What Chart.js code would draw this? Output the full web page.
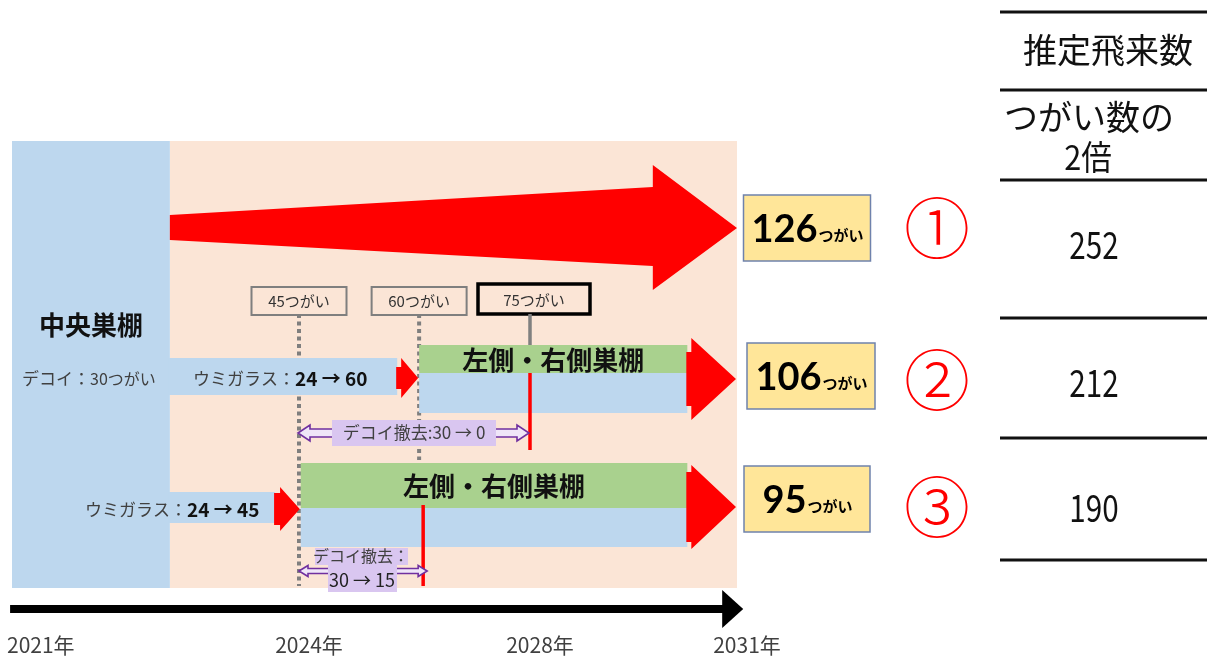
<!DOCTYPE html>
<html><head><meta charset="utf-8">
<script src="https://cdn.jsdelivr.net/npm/chart.js@4.4.1/dist/chart.umd.min.js"></script>
<style>html,body{margin:0;padding:0;background:#fff;overflow:hidden}#wrap{width:1207px;height:657px}</style>
</head><body><div id="wrap"><canvas id="c" width="1207" height="657"></canvas></div>
<script>
// ---------------- data ----------------
const yearTicks = [2021, 2024, 2028, 2031];
const yearLabels = ['2021年', '2024年', '2028年', '2031年'];
const scenarioMarks = ['①', '②', '③'];
const pairs2031 = [126, 106, 95];          // 2031年のつがい数
const birds2031 = [252, 212, 190];         // 推定飛来数（つがい数の2倍）
const tableHeader = ['推定飛来数', 'つがい数の', '2倍'];
const milestonePairs = [45, 60, 75];
const milestoneYears = [2024, 2026.08, 2028];
const centralNestEnd = 2022.65;            // 中央巣棚のみの期間の終わり
const decoyCentral = 30;                   // デコイ：30つがい
const murreFrom = [24, 24];                // シナリオ②③ ウミガラス
const murreTo = [60, 45];
const murreBarEnd = [2025.70, 2023.75];
const sideNestStart = [2026.08, 2024.03];  // 左側・右側巣棚 開始
const sideNestEnd = 2030.28;
const decoyFrom = [30, 30];
const decoyTo = [0, 15];
const decoyRemovalStart = [2024, 2024];
const decoyRemovalEnd = [2028, 2026.15];
const horizonYear = 2031;
const axisStartYear = 2020.98;

// ---------------- layout (slide units) ----------------
const SLIDE_W = 1207;
const L = {
  band: { top: 141, bottom: 588 },
  row1: { tailTop: 215, tailBottom: 240, shaftTop: 187, shaftBottom: 266, headTop: 165, headBottom: 290, tipY: 228, headBaseYear: 2029.78 },
  row2: { barTop: 358, barBottom: 395, greenTop: 345, split: 373, blueBottom: 413, textX: 193, textY: 379, decoyX: 22,
          small: { shaft: 5, sh: 11, hh: 20, y: 378 }, end: { shaft: 5, sh: 27, hh: 41, y: 379 },
          purpleY: 433, pSh: 4, pHh: 8, pHl: 12, redTop: 373, redBottom: 450, dotBottom: 460 },
  row3: { barTop: 492, barBottom: 523, greenTop: 463, split: 508, blueBottom: 547, textX: 85, textY: 510,
          small: { shaft: 6, sh: 16, hh: 22, y: 509 }, end: { shaft: 5, sh: 35, hh: 42, y: 507 },
          purpleY: 571, pSh: 2.5, pHh: 5.5, pHl: 9, redTop: 505, redBottom: 586, dotBottom: 586 },
  milestone: { top: 287, bottom: 315, w: [95, 95, 112], dx: [0, 0, 4], border: [2, 2, 3.5], colors: ['#7f7f7f', '#7f7f7f', '#000'] },
  connectorTop: 314,
  axis: { y: 609, thick: 8, headLen: 20, headHalf: 19, labelY: 645 },
  results: { cx: [807, 811, 807], cy: [228, 376, 499], w: [127, 128, 126], h: 66, markX: 937, markY: [228, 380, 507] },
  table: { x0: 1000, x1: 1207, lines: [12, 90, 180, 318, 438, 560], cx: 1094, hdrY: [50, 117, 157], numY: [245, 383, 508] }
};

const C = { pink: '#FBE5D6', blue: '#BDD7EE', green: '#A9D18E', red: '#FF0000', purple: '#7030A0', lav: '#D9C6F0', yellow: '#FFE699', text: '#404040' };
const JP = '"Noto Sans CJK JP", "Noto Sans", sans-serif';

// ---------------- piecewise timeline scale ----------------
class PiecewiseScale extends Chart.LinearScale {
  static id = 'piecewise';
  static defaults = Chart.LinearScale.defaults;
  _seg(v) {
    const bp = this.options.breakpoints;
    let i = 0;
    while (i < bp.length - 2 && v > bp[i + 1][0]) i++;
    return i;
  }
  getPixelForValue(v) {
    const bp = this.options.breakpoints, i = this._seg(v);
    const [v0, f0] = bp[i], [v1, f1] = bp[i + 1];
    return this.getPixelForDecimal(f0 + (v - v0) * (f1 - f0) / (v1 - v0));
  }
  getValueForPixel(p) {
    const bp = this.options.breakpoints, f = this.getDecimalForPixel(p);
    let i = 0;
    while (i < bp.length - 2 && f > bp[i + 1][1]) i++;
    const [v0, f0] = bp[i], [v1, f1] = bp[i + 1];
    return v0 + (f - f0) * (v1 - v0) / (f1 - f0);
  }
}
Chart.register(PiecewiseScale);

// ---------------- helpers ----------------
function H(chart) {
  const xs = chart.scales.x, ys = chart.scales.y, a = chart.chartArea;
  return { X: v => xs.getPixelForValue(v), Y: v => ys.getPixelForValue(v), U: u => a.left + u * a.width / SLIDE_W };
}
function rect(ctx, x0, x1, y0, y1, fill) { ctx.fillStyle = fill; ctx.fillRect(x0, y0, x1 - x0, y1 - y0); }
function poly(ctx, pts, fill, stroke, lw) {
  ctx.beginPath(); pts.forEach((p, i) => i ? ctx.lineTo(p[0], p[1]) : ctx.moveTo(p[0], p[1])); ctx.closePath();
  if (fill) { ctx.fillStyle = fill; ctx.fill(); }
  if (stroke) { ctx.strokeStyle = stroke; ctx.lineWidth = lw || 1; ctx.stroke(); }
}
function runs(ctx, segs, x, y, align) {
  ctx.textBaseline = 'middle'; ctx.textAlign = 'left';
  let w = 0; segs.forEach(s => { ctx.font = s[1]; w += ctx.measureText(s[0]).width; });
  let cx = align === 'center' ? x - w / 2 : align === 'right' ? x - w : x;
  segs.forEach(s => { ctx.font = s[1]; ctx.fillStyle = s[2]; ctx.fillText(s[0], cx, y); cx += ctx.measureText(s[0]).width; });
}
function blockArrow(ctx, x0, shaftLen, xTip, y, sh, hh) {
  const xb = x0 + shaftLen;
  poly(ctx, [[x0, y - sh], [xb, y - sh], [xb, y - hh], [xTip, y], [xb, y + hh], [xb, y + sh], [x0, y + sh]], C.red);
}
function doubleArrow(ctx, xl, xr, y, sh, hh, hl) {
  poly(ctx, [[xl, y], [xl + hl, y - hh], [xl + hl, y - sh], [xr - hl, y - sh], [xr - hl, y - hh], [xr, y],
             [xr - hl, y + hh], [xr - hl, y + sh], [xl + hl, y + sh], [xl + hl, y + hh]], '#EFE6F8', C.purple, 1.6);
}

function drawBars(chart) {
  const ctx = chart.ctx, { X, Y } = H(chart);
  [L.row2, L.row3].forEach((r, k) => {
    rect(ctx, X(centralNestEnd) - 1, X(murreBarEnd[k]), Y(r.barTop), Y(r.barBottom), C.blue);
    blockArrow(ctx, X(murreBarEnd[k]) - 1, r.small.shaft, X(sideNestStart[k]) - 1, Y(r.small.y), r.small.sh, r.small.hh);
    rect(ctx, X(sideNestStart[k]), X(sideNestEnd), Y(r.greenTop), Y(r.split), C.green);
    rect(ctx, X(sideNestStart[k]), X(sideNestEnd), Y(r.split), Y(r.blueBottom), C.blue);
    blockArrow(ctx, X(sideNestEnd) - 1, r.end.shaft, X(horizonYear) - 1, Y(r.end.y), r.end.sh, r.end.hh);
    const gc = (X(sideNestStart[k]) + X(sideNestEnd)) / 2;
    runs(ctx, [['左側・右側巣棚', 'bold 26px ' + JP, '#111']], gc, (Y(r.greenTop) + Y(r.split)) / 2 + 1, 'center');
    runs(ctx, [['ウミガラス：', '17px ' + JP, C.text], [murreFrom[k] + ' → ' + murreTo[k], 'bold 19px ' + JP, '#111']],
         H(chart).U(r.textX), Y(r.textY), 'left');
  });
  runs(ctx, [['デコイ：', '17px ' + JP, C.text], [decoyCentral + 'つがい', '16px ' + JP, C.text]], H(chart).U(L.row2.decoyX), Y(L.row2.textY), 'left');
}

const diagram = {
  id: 'diagram',
  beforeDraw(chart) { chart.$barsDone = false; },
  beforeDatasetsDraw(chart) {
    const ctx = chart.ctx, { X, Y } = H(chart);
    rect(ctx, X(centralNestEnd), X(horizonYear), Y(L.band.top), Y(L.band.bottom), C.pink);
    rect(ctx, X(2021), X(centralNestEnd), Y(L.band.top), Y(L.band.bottom), C.blue);
    runs(ctx, [['中央巣棚', 'bold 26px ' + JP, '#111']], (X(2021) + X(centralNestEnd)) / 2, Y(325), 'center');
    const r = L.row1, xb = X(r.headBaseYear);
    poly(ctx, [[X(centralNestEnd), Y(r.tailTop)], [xb, Y(r.shaftTop)], [xb, Y(r.headTop)], [X(horizonYear), Y(r.tipY)],
               [xb, Y(r.headBottom)], [xb, Y(r.shaftBottom)], [X(centralNestEnd), Y(r.tailBottom)]], C.red);
    const m = L.milestone;
    milestoneYears.forEach((yr, i) => {
      const cx = X(yr) + m.dx[i], w = m.w[i];
      ctx.lineWidth = m.border[i]; ctx.strokeStyle = m.colors[i];
      ctx.strokeRect(cx - w / 2, Y(m.top) - (i === 2 ? 3 : 0), w, Y(m.bottom) - Y(m.top) + (i === 2 ? 2 : 0));
      runs(ctx, [[milestonePairs[i] + 'つがい', '15px ' + JP, '#333']], cx, (Y(m.top) + Y(m.bottom)) / 2 - (i === 2 ? 1 : 0), 'center');
    });
  },
  beforeDatasetDraw(chart, args) {
    const ds = chart.data.datasets[args.index];
    if (ds.layer === 'front' && !chart.$barsDone) { drawBars(chart); chart.$barsDone = true; }
  },
  afterDatasetsDraw(chart) {
    const ctx = chart.ctx, { X, Y, U } = H(chart);
    if (!chart.$barsDone) { drawBars(chart); chart.$barsDone = true; }
    const r2 = L.row2, r3 = L.row3;
    doubleArrow(ctx, X(decoyRemovalStart[0]) - 1, X(decoyRemovalEnd[0]) - 1, Y(r2.purpleY), r2.pSh, r2.pHh, r2.pHl);
    rect(ctx, X(decoyRemovalStart[0]) + 33, X(decoyRemovalStart[0]) + 197, Y(420), Y(446), C.lav);
    runs(ctx, [['デコイ撤去:' + decoyFrom[0] + ' → ' + decoyTo[0], '17px ' + JP, C.text]], X(decoyRemovalStart[0]) + 115, Y(r2.purpleY), 'center');
    doubleArrow(ctx, X(decoyRemovalStart[1]), X(decoyRemovalEnd[1]) + 4, Y(r3.purpleY), r3.pSh, r3.pHh, r3.pHl);
    rect(ctx, X(decoyRemovalStart[1]) + 16, X(decoyRemovalStart[1]) + 109, Y(548), Y(565), C.lav);
    rect(ctx, X(decoyRemovalStart[1]) + 29, X(decoyRemovalStart[1]) + 98, Y(565), Y(592), C.lav);
    runs(ctx, [['デコイ撤去：', '16px ' + JP, C.text]], X(decoyRemovalStart[1]) + 62, Y(556), 'center');
    runs(ctx, [[decoyFrom[1] + ' → ' + decoyTo[1], '18px ' + JP, '#222']], X(decoyRemovalStart[1]) + 63, Y(580), 'center');
    const a = L.axis;
    const ds = chart.data.datasets.find(d => d.id === 'axis');
    const xEnd = X(ds.data[1].x);
    poly(ctx, [[xEnd - 1, Y(a.y) - a.headHalf], [xEnd + a.headLen, Y(a.y)], [xEnd - 1, Y(a.y) + a.headHalf]], '#000');
    ctx.font = '21px ' + JP;
    yearTicks.forEach((yr, i) => {
      const w = ctx.measureText(yearLabels[i]).width;
      let c = X(yr) + 10; if (c - w / 2 < U(7)) c = U(7) + w / 2;
      runs(ctx, [[yearLabels[i], '21px ' + JP, C.text]], c, Y(a.labelY), 'center');
    });
    const R = L.results;
    pairs2031.forEach((p, i) => {
      const cx = U(R.cx[i]), cy = Y(R.cy[i]), w = R.w[i], h = R.h;
      ctx.fillStyle = C.yellow; ctx.fillRect(cx - w / 2, cy - h / 2, w, h);
      ctx.strokeStyle = '#6F82AC'; ctx.lineWidth = 1.5; ctx.strokeRect(cx - w / 2, cy - h / 2, w, h);
      ctx.textBaseline = 'alphabetic';
      ctx.font = 'bold 38px Lato, ' + JP; const w1 = ctx.measureText(String(p)).width;
      ctx.font = 'bold 15px ' + JP; const w2 = ctx.measureText('つがい').width;
      let x0 = cx - (w1 + w2) / 2;
      ctx.fillStyle = '#000'; ctx.textAlign = 'left';
      ctx.font = 'bold 38px Lato, ' + JP; ctx.fillText(String(p), x0, cy + 14);
      ctx.font = 'bold 15px ' + JP; ctx.fillText('つがい', x0 + w1 + 1, cy + 13);
      runs(ctx, [[scenarioMarks[i], '300 66px ' + JP, C.red]], U(R.markX), Y(R.markY[i]), 'center');
    });
    const T = L.table;
    ctx.strokeStyle = '#111'; ctx.lineWidth = 3;
    T.lines.forEach(y => { ctx.beginPath(); ctx.moveTo(U(T.x0), Y(y)); ctx.lineTo(U(T.x1), Y(y)); ctx.stroke(); });
    runs(ctx, [[tableHeader[0], '34px ' + JP, '#111']], U(1108), Y(T.hdrY[0]), 'center');
    runs(ctx, [[tableHeader[1], '34px ' + JP, '#111']], U(1089), Y(T.hdrY[1]), 'center');
    ctx.save(); ctx.translate(U(1088), Y(T.hdrY[2])); ctx.scale(0.9, 1);
    runs(ctx, [[tableHeader[2], '34px ' + JP, '#111']], 0, 0, 'center'); ctx.restore();
    birds2031.forEach((b, i) => {
      ctx.save(); ctx.translate(U(T.cx), Y(T.numY[i])); ctx.scale(0.78, 1);
      runs(ctx, [[String(b), '38px ' + JP, '#111']], 0, 0, 'center'); ctx.restore();
    });
  }
};

// ---------------- chart ----------------
const lineDs = (id, x, y0, y1, color, width, dash, layer, order) => ({
  id, layer, order, data: [{ x, y: y0 }, { x, y: y1 }], borderColor: color, borderWidth: width,
  borderDash: dash || [], pointRadius: 0, fill: false, borderCapStyle: 'butt'
});
const datasets = [
  lineDs('red2', decoyRemovalEnd[0], L.row2.redTop, L.row2.redBottom, C.red, 3.5, null, 'front', 0),
  lineDs('red3', decoyRemovalEnd[1], L.row3.redTop, L.row3.redBottom, C.red, 3.5, null, 'front', 0),
  lineDs('conn75', milestoneYears[2], L.connectorTop, L.row2.greenTop, '#808080', 3.5, null, 'front', 0),
  { id: 'axis', layer: 'front', order: 0, data: [{ x: axisStartYear, y: L.axis.y }, { x: 2030.8, y: L.axis.y }],
    borderColor: '#000', borderWidth: L.axis.thick, pointRadius: 0, borderCapStyle: 'butt' },
  lineDs('dot45', milestoneYears[0], L.connectorTop, L.row3.dotBottom, '#7F7F7F', 4, [4, 3.5], 'back', 1),
  lineDs('dot60', milestoneYears[1], L.connectorTop, L.row2.dotBottom, '#7F7F7F', 4, [4, 3.5], 'back', 1)
];

new Chart(document.getElementById('c'), {
  type: 'line',
  data: { datasets },
  options: {
    responsive: false, animation: false, events: [], devicePixelRatio: 1,
    layout: { padding: 0 },
    plugins: { legend: { display: false }, tooltip: { enabled: false } },
    scales: {
      x: { type: 'piecewise', display: false, min: 2020.8, max: 2036,
           breakpoints: [[2021, 12 / SLIDE_W], [2024, 299 / SLIDE_W], [2028, 530 / SLIDE_W], [2031, 737 / SLIDE_W]] },
      y: { type: 'linear', display: false, min: 0, max: 657, reverse: true }
    }
  },
  plugins: [diagram]
});
</script></body></html>
